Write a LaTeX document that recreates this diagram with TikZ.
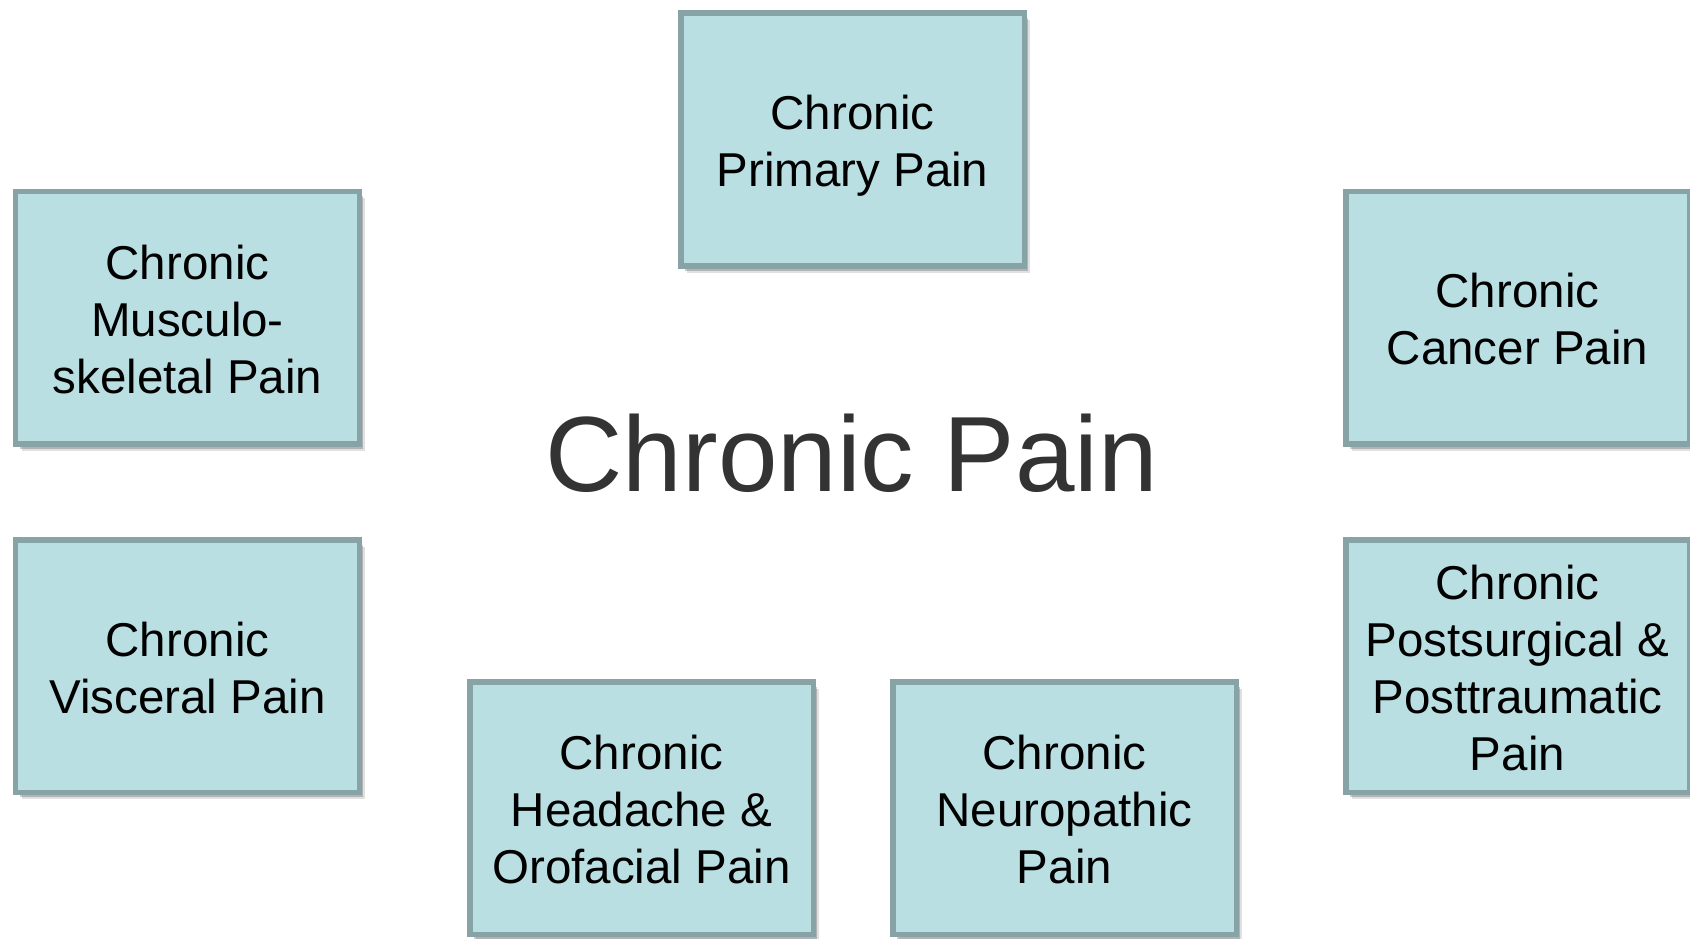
\documentclass[tikz,border=0pt]{standalone}
\usepackage{fontspec}
\setmainfont{Liberation Sans}
\usetikzlibrary{shadows}
\definecolor{boxfill}{RGB}{186,223,227}
\definecolor{boxline}{RGB}{135,163,166}
\definecolor{titlegray}{RGB}{51,51,51}
\newcommand\boxlines[1]{\raisebox{-7.5bp}[\height][\depth]{\begin{tabular}{@{}c@{}}#1\end{tabular}}}
\begin{document}
\begin{tikzpicture}[x=1bp,y=-1bp,
  painbox/.style={draw=boxline, line width=5.5bp, fill=boxfill, rectangle,
    minimum width=343.5bp, minimum height=252.5bp, inner sep=0pt,
    font=\fontsize{47.5bp}{57bp}\selectfont,
    drop shadow={shadow xshift=6bp, shadow yshift=-7bp, opacity=0.12, fill=black},
    drop shadow={shadow xshift=4bp, shadow yshift=-5bp, opacity=0.2, fill=black},
    drop shadow={shadow xshift=2bp, shadow yshift=-3bp, opacity=0.25, fill=black}},
  titletext/.style={font=\fontsize{107bp}{120bp}\selectfont, inner sep=0pt}]
\clip (0,0) rectangle (1690,938);
\useasboundingbox (0,0) rectangle (1690,938);
\fill[white] (0,0) rectangle (1690,938);

\node[painbox] (primary) at (852.5,139.5) {\boxlines{Chronic\\Primary Pain}};
\node[painbox] (musculo) at (187.5,317.5) {\boxlines{Chronic\\Musculo-\\skeletal Pain}};
\node[painbox] (visceral) at (187.5,666) {\boxlines{Chronic\\Visceral Pain}};
\node[painbox] (headache) at (641.5,808) {\boxlines{Chronic\\Headache \&\\Orofacial Pain}};
\node[painbox] (neuro) at (1064.5,808) {\boxlines{Chronic\\Neuropathic\\Pain}};
\node[painbox] (cancer) at (1517.5,317.5) {\boxlines{Chronic\\Cancer Pain}};
\node[painbox] (postsurg) at (1517.5,666) {\boxlines{Chronic\\Postsurgical \&\\Posttraumatic\\Pain}};

\node[titletext, text=titlegray] (title) at (852,453) {Chronic Pain};
\end{tikzpicture}
\end{document}
